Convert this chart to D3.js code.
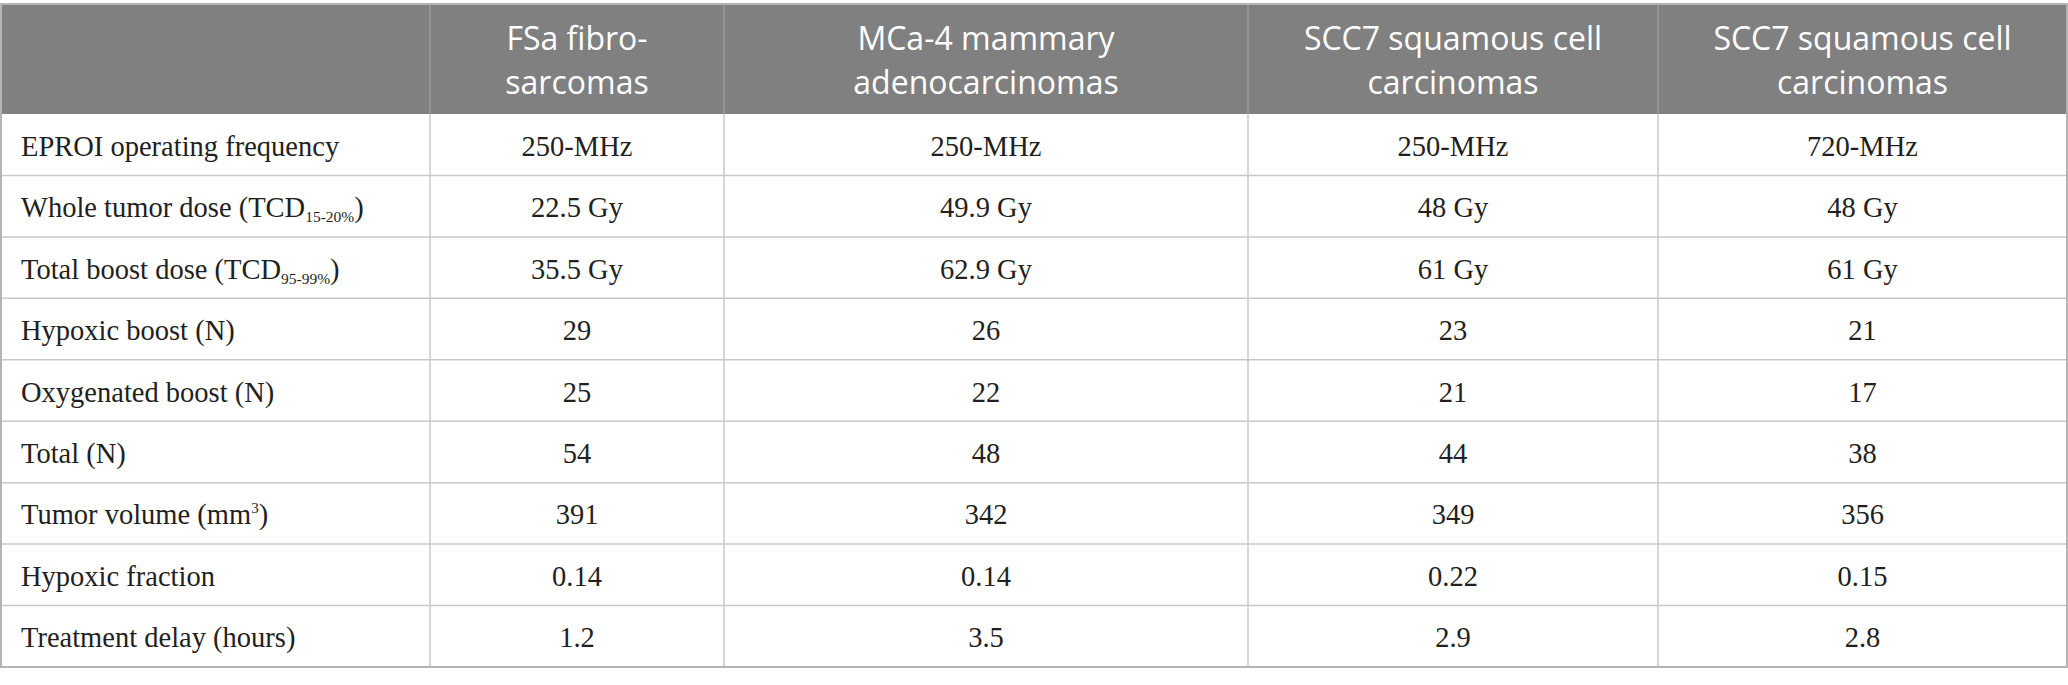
<!DOCTYPE html>
<html>
<head>
<meta charset="utf-8">
<script src="https://cdn.jsdelivr.net/npm/d3@7"></script>
<style>
  html, body { margin: 0; padding: 0; background: #fff; }
</style>
</head>
<body>
<script>
// Column headings (one entry per line)
const tumorTypes = [
  ["FSa fibro-", "sarcomas"],
  ["MCa-4 mammary", "adenocarcinomas"],
  ["SCC7 squamous cell", "carcinomas"],
  ["SCC7 squamous cell", "carcinomas"]
];

// Row labels, _{..} = subscript, ^{..} = superscript
const rowLabels = [
  "EPROI operating frequency",
  "Whole tumor dose (TCD_{15-20%})",
  "Total boost dose (TCD_{95-99%})",
  "Hypoxic boost (N)",
  "Oxygenated boost (N)",
  "Total (N)",
  "Tumor volume (mm^{3})",
  "Hypoxic fraction",
  "Treatment delay (hours)"
];

const fsaValues = ["250-MHz", "22.5 Gy", "35.5 Gy", "29", "25", "54", "391", "0.14", "1.2"];
const mca4Values = ["250-MHz", "49.9 Gy", "62.9 Gy", "26", "22", "48", "342", "0.14", "3.5"];
const scc7Values250 = ["250-MHz", "48 Gy", "61 Gy", "23", "21", "44", "349", "0.22", "2.9"];
const scc7Values720 = ["720-MHz", "48 Gy", "61 Gy", "21", "17", "38", "356", "0.15", "2.8"];

const columns = [fsaValues, mca4Values, scc7Values250, scc7Values720];

// layout
const W = 2068, H = 685;
const tableTop = 4, headBottom = 114, tableBottom = 667;
const colEdges = [1, 430, 724, 1248, 1658, 2067];
const bodyFont = "'Liberation Serif', serif";
const bodySize = 28.5;

const svg = d3.select("body").append("svg")
  .attr("width", W)
  .attr("height", H)
  .attr("xmlns", "http://www.w3.org/2000/svg");

const y = d3.scaleBand().domain(rowLabels).range([headBottom, tableBottom]);
const x = d3.scaleOrdinal().domain(d3.range(colEdges.length - 1)).range(colEdges.slice(0, -1));
const colW = i => colEdges[i + 1] - colEdges[i];

// header background
svg.append("rect")
  .attr("x", colEdges[0]).attr("y", tableTop)
  .attr("width", colEdges[colEdges.length - 1] - colEdges[0])
  .attr("height", headBottom - tableTop)
  .attr("fill", "#808080");

// header separators
svg.selectAll("line.hsep")
  .data(colEdges.slice(1, -1))
  .enter().append("line")
  .attr("x1", d => d).attr("x2", d => d)
  .attr("y1", tableTop).attr("y2", headBottom)
  .attr("stroke", "#9a9a9a").attr("stroke-width", 1.5);

// header text
const head = svg.selectAll("text.head")
  .data(tumorTypes)
  .enter().append("text")
  .attr("class", "head")
  .attr("text-anchor", "middle")
  .attr("font-family", "'Open Sans', sans-serif")
  .attr("font-size", 32)
  .attr("fill", "#fff");

head.selectAll("tspan")
  .data((d, i) => d.map(t => ({ t, i })))
  .enter().append("tspan")
  .attr("x", d => x(d.i + 1) + colW(d.i + 1) / 2)
  .attr("y", (d, j) => 50 + j * 43.5)
  .text(d => d.t);

// body row lines
svg.selectAll("line.row")
  .data(rowLabels)
  .enter().append("line")
  .attr("x1", colEdges[0]).attr("x2", colEdges[colEdges.length - 1])
  .attr("y1", d => y(d) + y.bandwidth()).attr("y2", d => y(d) + y.bandwidth())
  .attr("stroke", "#c8c8c8").attr("stroke-width", 1.5);

// body column lines
svg.selectAll("line.col")
  .data(colEdges.slice(1, -1))
  .enter().append("line")
  .attr("x1", d => d).attr("x2", d => d)
  .attr("y1", headBottom).attr("y2", tableBottom)
  .attr("stroke", "#c8c8c8").attr("stroke-width", 1.5);

// outer border
svg.append("rect")
  .attr("x", colEdges[0]).attr("y", tableTop)
  .attr("width", colEdges[colEdges.length - 1] - colEdges[0])
  .attr("height", tableBottom - tableTop)
  .attr("fill", "none")
  .attr("stroke", "#b4b4b4").attr("stroke-width", 2);

// row labels with sub/superscripts
const labels = svg.selectAll("text.label")
  .data(rowLabels)
  .enter().append("text")
  .attr("class", "label")
  .attr("x", 21)
  .attr("y", d => y(d) + y.bandwidth() / 2 + 11)
  .attr("font-family", bodyFont)
  .attr("font-size", bodySize)
  .attr("fill", "#231f20");

labels.each(function (d) {
  const t = d3.select(this);
  const parts = d.split(/([_^]\{[^}]*\})/).filter(p => p.length);
  let shift = 0;
  parts.forEach(p => {
    if (p.startsWith("_{")) {
      t.append("tspan").attr("font-size", 15.5).attr("dy", 5 - shift).text(p.slice(2, -1));
      shift = 5;
    } else if (p.startsWith("^{")) {
      t.append("tspan").attr("font-size", 15).attr("dy", -11 - shift).text(p.slice(2, -1));
      shift = -11;
    } else {
      t.append("tspan").attr("dy", -shift).text(p);
      shift = 0;
    }
  });
});

// cell values
columns.forEach((vals, ci) => {
  svg.selectAll("text.c" + ci)
    .data(vals)
    .enter().append("text")
    .attr("class", "c" + ci)
    .attr("text-anchor", "middle")
    .attr("x", x(ci + 1) + colW(ci + 1) / 2)
    .attr("y", (d, ri) => y(rowLabels[ri]) + y.bandwidth() / 2 + 11)
    .attr("font-family", bodyFont)
    .attr("font-size", bodySize)
    .attr("fill", "#231f20")
    .text(d => d);
});
</script>
</body>
</html>
